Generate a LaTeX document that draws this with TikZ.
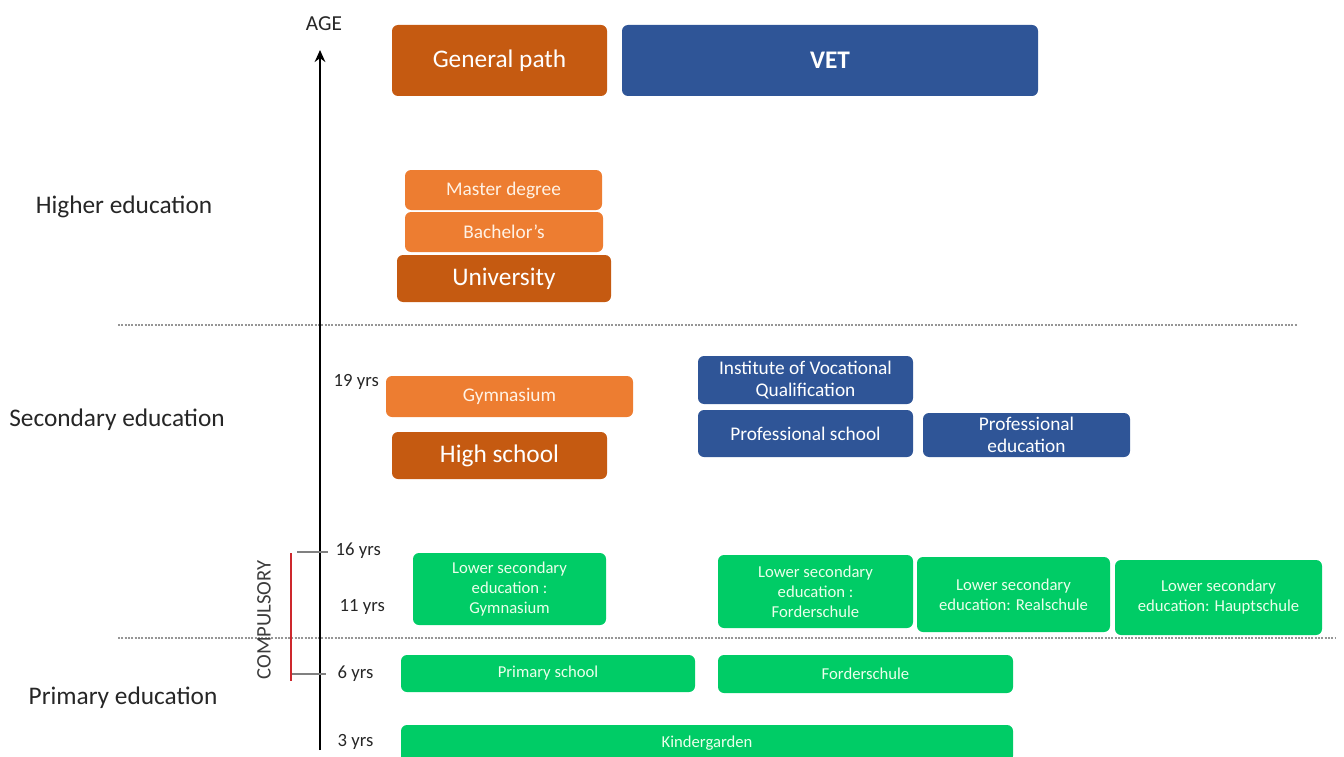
\documentclass[tikz,border=0pt]{standalone}
\usepackage{fontspec}
\setmainfont{Carlito}
\usetikzlibrary{arrows.meta}
\definecolor{dorange}{RGB}{197,90,17}
\definecolor{lorange}{RGB}{237,125,49}
\definecolor{vblue}{RGB}{47,85,151}
\definecolor{sgreen}{RGB}{0,204,102}
\definecolor{lbl}{RGB}{38,38,38}
\definecolor{sep}{RGB}{150,150,150}
\definecolor{cred}{RGB}{205,40,45}
\begin{document}
\begin{tikzpicture}[x=0.75pt,y=-0.75pt,
  bx/.style 2 args={rectangle, rounded corners=4.5pt, inner sep=1pt,
    minimum width=#1*0.75pt, minimum height=#2*0.75pt, text=white, align=center},
  big/.style={font=\fontsize{19}{22}\selectfont},
  mid/.style={font=\fontsize{14.5}{17}\selectfont},
  small/.style={font=\fontsize{12.5}{15}\selectfont},
  dk/.style={fill=dorange},
  lo/.style={fill=lorange, text=orange!10!white},
  bl/.style={fill=vblue},
  gr/.style={fill=sgreen, text=green!8!white},
  seclabel/.style={text=lbl, font=\fontsize{19}{22}\selectfont},
  yrs/.style={text=lbl, anchor=west, font=\fontsize{14}{16}\selectfont},
  sepline/.style={sep, dash pattern=on 1.5pt off 1pt, line width=0.8pt},
  tick/.style={gray, line width=0.8pt}
]
\useasboundingbox (0,0) rectangle (1344,756);

% separators
\coordinate (s1a) at (118,325); \coordinate (s1b) at (1297,325);
\coordinate (s2a) at (118,638); \coordinate (s2b) at (1335,638);
\draw[sepline] (s1a) -- (s1b);
\draw[sepline] (s2a) -- (s2b);

% axis
\coordinate (axb) at (320,750); \coordinate (axt) at (320,50);
\draw[line width=1.8pt,-{Stealth[length=9pt,width=8pt]}] (axb) -- (axt);
\node[text=lbl, font=\fontsize{16}{18}\selectfont] (age) at (324,24) {AGE};

% compulsory
\coordinate (t16a) at (297,552); \coordinate (t16b) at (328,552);
\coordinate (t6a) at (291,674); \coordinate (t6b) at (326,674);
\coordinate (ra) at (291,553); \coordinate (rb) at (291,681);
\draw[tick] (t16a) -- (t16b);
\draw[tick] (t6a) -- (t6b);
\draw[cred, line width=2.2pt] (ra) -- (rb);
\node[rotate=90, text=lbl!90, font=\fontsize{15.5}{17}\selectfont] (comp) at (264,620) {COMPULSORY};

% age labels
\node[yrs] (y19) at (329,382) {19 yrs};
\node[yrs] (y16) at (331,551) {16 yrs};
\node[yrs] (y11) at (335,607) {11 yrs};
\node[yrs] (y6) at (333,674) {6 yrs};
\node[yrs] (y3) at (333,742) {3 yrs};

% section labels
\node[seclabel] (he) at (124,207) {Higher education};
\node[seclabel] (se) at (117,420) {Secondary education};
\node[seclabel] (pe) at (123,698) {Primary education};

% headers
\node[bx={215}{71}, dk, big] (gen) at (499.5,60.5) {General path};
\node[bx={416}{71}, bl, big] (vet) at (830,60.5) {\bfseries VET};

% higher
\node[bx={197}{40}, lo, mid] (master) at (503.5,190) {Master degree};
\node[bx={198}{40}, lo, mid] (bach) at (504,232) {Bachelor's};
\node[bx={214}{47}, dk, big] (univ) at (504,278.5) {University};

% secondary
\node[bx={247}{41}, lo, mid] (gym) at (509.5,396.5) {Gymnasium};
\node[bx={215}{47}, dk, big] (hs) at (499.5,455.5) {High school};
\node[bx={215}{48}, bl, mid] (ivq) at (805.5,380) {Institute of Vocational\\Qualification};
\node[bx={215}{47}, bl, mid] (ps) at (805.5,433.5) {Professional school};
\node[bx={207}{44}, bl, mid] (pedu) at (1026.5,435) {Professional\\education};

% lower secondary
\node[bx={193}{72}, gr, small] (lsg) at (509.5,589) {Lower secondary\\education :\\Gymnasium};
\node[bx={195}{73}, gr, small] (lsf) at (815.5,591.5) {Lower secondary\\education :\\Forderschule};
\node[bx={193}{75}, gr, small] (lsr) at (1013.5,594.5) {Lower secondary\\education: Realschule};
\node[bx={207}{75}, gr, small] (lsh) at (1218.5,597.5) {Lower secondary\\education: Hauptschule};

% primary
\node[bx={294}{37}, gr, small] (prim) at (548,673.5) {Primary school};
\node[bx={295}{38}, gr, small] (ford) at (865.5,674) {Forderschule};
\node[bx={612}{37}, gr, small] (kind) at (707,743.5) {Kindergarden};
\end{tikzpicture}
\end{document}
